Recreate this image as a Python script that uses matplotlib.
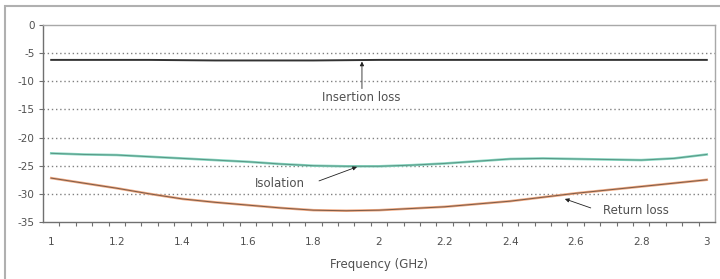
import matplotlib
matplotlib.use("Agg")
import matplotlib.pyplot as plt
from matplotlib.patches import Rectangle
import numpy as np

plt.rcParams['font.family'] = ['DejaVu Sans']

freq = [1.0, 1.1, 1.2, 1.3, 1.4, 1.5, 1.6, 1.7, 1.8, 1.9, 2.0,
        2.1, 2.2, 2.3, 2.4, 2.5, 2.6, 2.7, 2.8, 2.9, 3.0]
insertion_loss = [-6.2, -6.2, -6.2, -6.2, -6.25, -6.3, -6.3, -6.3, -6.3, -6.25, -6.2,
                  -6.2, -6.2, -6.2, -6.2, -6.2, -6.2, -6.2, -6.2, -6.2, -6.2]
isolation = [-22.8, -23.0, -23.1, -23.4, -23.7, -24.0, -24.3, -24.7, -25.0, -25.1, -25.1,
             -24.9, -24.6, -24.2, -23.8, -23.7, -23.8, -23.9, -24.0, -23.7, -23.0]
return_loss = [-27.2, -28.1, -29.0, -30.0, -30.9, -31.5, -32.0, -32.5, -32.9, -33.0, -32.9,
               -32.6, -32.3, -31.8, -31.3, -30.6, -29.9, -29.3, -28.7, -28.1, -27.5]
xtick_labels = ["1", "1.2", "1.4", "1.6", "1.8", "2", "2.2", "2.4", "2.6", "2.8", "3"]
yticks = [0, -5, -10, -15, -20, -25, -30, -35]

W, H = 720, 279
fig = plt.figure(figsize=(W / 100, H / 100), dpi=100)
# outer frame
fig.patches.append(Rectangle((5 / W, -0.2), 1.2, 1.2 - 6 / H, transform=fig.transFigure,
                             fill=False, edgecolor='#b0b0b0', linewidth=1.5))

ax = fig.add_axes([43 / W, 1 - 222 / H, (715 - 43) / W, (222 - 25) / H])
ax.set_xlim(0.975, 3.025)
ax.set_ylim(-35, 0)

for y in yticks[1:-1]:
    ax.axhline(y, color='#808080', linestyle=(0, (1, 2)), linewidth=1.0, zorder=1)

ax.plot(freq, insertion_loss, color='#333333', linewidth=1.4, zorder=3)
ax.plot(freq, isolation, color='#86d6c0', linewidth=1.8, zorder=3)
ax.plot(freq, isolation, color='#3a6a5c', linewidth=0.7, alpha=0.6, zorder=4)
ax.plot(freq, return_loss, color='#f0a880', linewidth=1.8, zorder=3)
ax.plot(freq, return_loss, color='#4a3a30', linewidth=0.7, alpha=0.7, zorder=4)

text_c = '#505050'
ax.set_yticks(yticks)
ax.set_yticklabels([str(v) for v in yticks])
ax.set_xticks([float(t) for t in xtick_labels])
ax.set_xticklabels(xtick_labels)
ax.set_xticks(np.arange(1.025, 3.0, 0.05), minor=True)
ax.tick_params(axis='x', which='major', length=0, pad=11, labelsize=7.5, colors=text_c)
ax.tick_params(axis='x', which='minor', length=3, width=0.8, color='#707070')
ax.tick_params(axis='y', length=3, width=0.8, color='#707070', labelsize=7.5,
               labelcolor=text_c, pad=3)

for side in ['top', 'right']:
    ax.spines[side].set_color('#a8a8a8')
    ax.spines[side].set_linewidth(1.0)
for side in ['left', 'bottom']:
    ax.spines[side].set_color('#707070')
    ax.spines[side].set_linewidth(1.0)

ax.set_xlabel("Frequency (GHz)", fontsize=8.5, color=text_c, labelpad=8)

arrow = dict(arrowstyle='-|>', color='#202020', lw=0.6, mutation_scale=6,
             shrinkA=0, shrinkB=0)
ax.annotate("Insertion loss", xy=(1.945, -12.9), ha='center', va='center',
            fontsize=8.5, color=text_c)
ax.annotate("", xy=(1.948, -6.5), xytext=(1.948, -11.3), arrowprops=arrow)
ax.annotate("Isolation", xy=(1.698, -28.2), ha='center', va='center', fontsize=8.5,
            color=text_c)
ax.annotate("", xy=(1.933, -25.2), xytext=(1.817, -27.7), arrowprops=arrow)
ax.annotate("Return loss", xy=(2.784, -33.0), ha='center', va='center', fontsize=8.5,
            color=text_c)
ax.annotate("", xy=(2.567, -30.9), xytext=(2.646, -32.5), arrowprops=arrow)

fig.savefig("out.png", dpi=100)
